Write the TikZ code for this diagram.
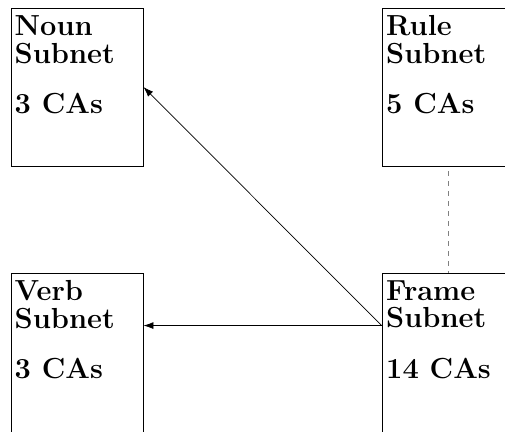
\documentclass[tikz,border=0pt]{standalone}
\usetikzlibrary{arrows.meta}

\tikzset{subnet/.style = {draw, line width=0.9pt, minimum width=132pt, minimum height=#1, inner sep=0pt},
         subnet/.default=158pt,
         label txt/.style = {anchor=north west, inner sep=0pt, align=left,
                             font=\fontsize{29}{27.5}\selectfont\bfseries},
         link/.style = {line width=0.7pt, -{Latex[length=10pt,width=7pt]}}
        }

\begin{document}
\begin{tikzpicture}[x=1pt,y=1pt]
\useasboundingbox (0,0) rectangle (505,431);
\node[subnet] at (77,344) (n) {};
\node[subnet] at (448,344) (r) {};
\node[subnet=170pt] at (77,73) (v) {};
\node[subnet=170pt] at (448,73) (f) {};
\node[label txt] at (14.5,415.5) (nt) {Noun\\Subnet\\[23pt]3 CAs};
\node[label txt] at (386,415.5) (rt) {Rule\\Subnet\\[23pt]5 CAs};
\node[label txt] at (14.5,150.5) (vt) {Verb\\Subnet\\[23pt]3 CAs};
\node[label txt] at (386,150.5) (ft) {Frame\\Subnet\\[23pt]14 CAs};
\draw[link] ([yshift=-53pt]f.north west) -- (n.east);
\draw[link] ([yshift=-53pt]f.north west) -- ([yshift=-53pt]v.north east);
\draw[gray, line width=0.9pt, dash pattern=on 5pt off 5pt, dash phase=5pt] (r.south) -- (f.north);
\end{tikzpicture}
\end{document}
